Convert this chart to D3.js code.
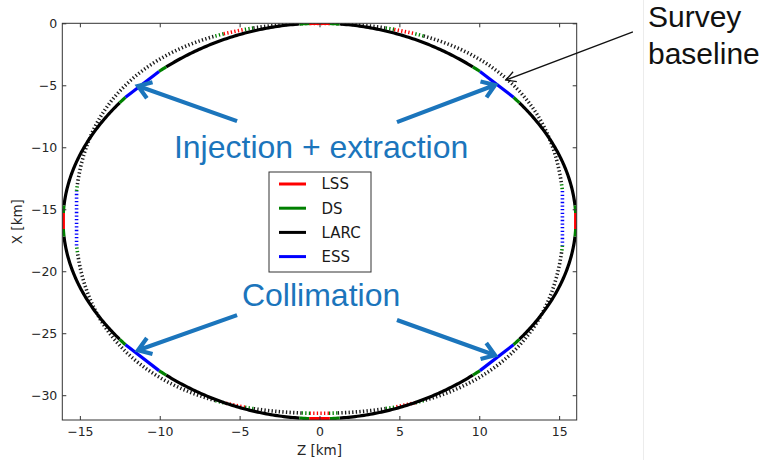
<!DOCTYPE html>
<html>
<head>
<meta charset="utf-8">
<script src="https://cdn.jsdelivr.net/npm/d3@7"></script>
<style>
body { margin: 0; background: #fff; }
</style>
</head>
<body>
<div id="chart"></div>
<script>
// axis ticks
var zTicks = [-15, -10, -5, 0, 5, 10, 15];
var xTicks = [0, -5, -10, -15, -20, -25, -30];

// legend entries
var legendNames = ["LSS", "DS", "LARC", "ESS"];
var legendColors = ["#ff0000", "#008000", "#000000", "#0000ff"];

// main ring (solid): angles in degrees, clockwise from the top of the ring
var ringShape = { cz: 0, cx: -15.95, rz: 16.05, rx: 15.95, squeeze: -0.0094 };
var ringLSS = [[-2.3, 2.3], [87.7, 92.3], [177.7, 182.3], [267.7, 272.3]];
var ringESS = [[39.6, 50.4], [129.6, 140.4], [219.6, 230.4], [309.6, 320.4]];
var ringDS = [[-4.5, -2.3], [2.3, 4.5], [85.5, 87.7], [92.3, 94.5],
    [175.5, 177.7], [182.3, 184.5], [265.5, 267.7], [272.3, 274.5],
    [37.5, 39.6], [50.4, 52.5], [127.5, 129.6], [140.4, 142.5],
    [217.5, 219.6], [230.4, 232.5], [307.5, 309.6], [320.4, 322.5]];

// survey baseline ring (dotted)
var surveyShape = { cz: 0, cx: -15.73, rz: 15.3, rx: 15.73, squeeze: 0.024 };
var surveyLSS = [[-2.2, 2.2], [17.5, 22.5], [157.5, 162.5], [177.8, 182.2],
    [197.5, 202.5], [337.5, 342.5]];
var surveyESS = [[82, 98], [262, 278]];
var surveyDS = [[-4.2, -2.2], [2.2, 4.2], [15.5, 17.5], [22.5, 24.5],
    [155.5, 157.5], [162.5, 164.5], [175.8, 177.8], [182.2, 184.2],
    [195.5, 197.5], [202.5, 204.5], [335.5, 337.5], [342.5, 344.5],
    [80, 82], [98, 100], [260, 262], [278, 280]];

// annotations, in data units [Z, X]
var noteTexts = ["Injection + extraction", "Collimation"];
var notePos = [[0.1, -10.87], [0.1, -22.82]];
var noteArrows = [
    [[-5.16, -7.89], [-11.36, -5.06]],
    [[4.85, -7.97], [10.99, -4.98]],
    [[-5.16, -23.54], [-11.36, -26.37]],
    [[4.85, -23.94], [10.99, -26.77]]
];
var surveyArrow = [[19.62, -0.70], [11.67, -4.58]];
var surveyLabel = ["Survey", "baseline"];

var W = 769, H = 460;
var plotL = 62.3, plotR = 576.7, plotT = 23.3, plotB = 420;

var svg = d3.select("#chart").append("svg")
    .attr("width", W)
    .attr("height", H);

var x = d3.scaleLinear().domain([-16.1, 16.1]).range([plotL, plotR]);
var y = d3.scaleLinear().domain([-32, 0]).range([plotB, plotT]);

var line = d3.line()
    .x(function (d) { return x(d[0]); })
    .y(function (d) { return y(d[1]); });

// slide divider on the right
svg.append("line")
    .attr("x1", 643.5).attr("x2", 643.5)
    .attr("y1", 0).attr("y2", H)
    .attr("stroke", "#ececec")
    .attr("stroke-width", 1);

svg.append("clipPath").attr("id", "plot")
    .append("rect")
    .attr("x", plotL).attr("y", plotT)
    .attr("width", plotR - plotL).attr("height", plotB - plotT);

function ringPoint(s, deg) {
    var t = deg * Math.PI / 180;
    var f = 1 + s.squeeze * (1 - Math.cos(4 * t));
    return [s.cz + s.rz * f * Math.sin(t), s.cx + s.rx * f * Math.cos(t)];
}

function arcPoints(s, a, b) {
    var pts = [];
    var n = Math.max(2, Math.ceil((b - a) / 0.5));
    for (var i = 0; i <= n; i++) pts.push(ringPoint(s, a + (b - a) * i / n));
    return pts;
}

// gaps between coloured sections are the arcs (LARC)
function arcGaps(sections) {
    var all = sections.map(function (d) { return [(d[0] + 360) % 360, (d[1] + 360) % 360]; })
        .map(function (d) { return d[1] < d[0] ? [d[0], d[1] + 360] : d; })
        .sort(function (a, b) { return a[0] - b[0]; });
    var gaps = [];
    for (var i = 0; i < all.length; i++) {
        var end = all[i][1];
        var next = i < all.length - 1 ? all[i + 1][0] : all[0][0] + 360;
        if (next > end) gaps.push([end, next]);
    }
    return gaps;
}

var plot = svg.append("g").attr("clip-path", "url(#plot)");

function drawRing(shape, lss, ds, ess, style) {
    var g = plot.append("g")
        .attr("fill", "none")
        .attr("stroke-width", style.width)
        .attr("stroke-dasharray", style.dash);
    var arcs = arcGaps(lss.concat(ds, ess));
    g.selectAll(".larc").data(arcs).enter().append("path")
        .attr("stroke", style.black)
        .attr("d", function (d) { return line(arcPoints(shape, d[0], d[1])); });
    g.selectAll(".ds").data(ds).enter().append("path")
        .attr("stroke", "#008000")
        .attr("d", function (d) { return line(arcPoints(shape, d[0], d[1])); });
    g.selectAll(".lss").data(lss).enter().append("path")
        .attr("stroke", "#ff0000")
        .attr("d", function (d) { return line([ringPoint(shape, d[0]), ringPoint(shape, d[1])]); });
    g.selectAll(".ess").data(ess).enter().append("path")
        .attr("stroke", "#0000ff")
        .attr("d", function (d) { return line([ringPoint(shape, d[0]), ringPoint(shape, d[1])]); });
}

drawRing(surveyShape, surveyLSS, surveyDS, surveyESS,
    { width: 3.6, dash: "1.3,2.3", black: "#1a1a1a" });
drawRing(ringShape, ringLSS, ringDS, ringESS,
    { width: 3.2, dash: null, black: "#000" });

// frame and ticks (matplotlib style, inward)
function styleAxis(g) {
    g.select(".domain").remove();
    g.selectAll(".tick line").attr("stroke", "#333").attr("stroke-width", 1);
    g.selectAll(".tick text")
        .attr("fill", "#262626")
        .style("font-family", "DejaVu Sans")
        .style("font-size", "12.5px");
}

svg.append("g")
    .attr("transform", "translate(0," + plotB + ")")
    .call(d3.axisBottom(x).tickValues(zTicks).tickSize(-4).tickPadding(7))
    .call(styleAxis);
svg.append("g")
    .attr("transform", "translate(0," + plotT + ")")
    .call(d3.axisTop(x).tickValues(zTicks).tickSize(-4).tickFormat(""))
    .call(styleAxis);
svg.append("g")
    .attr("transform", "translate(" + plotL + ",0)")
    .call(d3.axisLeft(y).tickValues(xTicks).tickSize(-4).tickPadding(5))
    .call(styleAxis);
svg.append("g")
    .attr("transform", "translate(" + plotR + ",0)")
    .call(d3.axisRight(y).tickValues(xTicks).tickSize(-4).tickFormat(""))
    .call(styleAxis);

svg.append("rect")
    .attr("x", plotL).attr("y", plotT)
    .attr("width", plotR - plotL).attr("height", plotB - plotT)
    .attr("fill", "none")
    .attr("stroke", "#333")
    .attr("stroke-width", 1);

svg.append("text")
    .attr("x", (plotL + plotR) / 2)
    .attr("y", 455)
    .attr("text-anchor", "middle")
    .attr("fill", "#262626")
    .style("font-family", "DejaVu Sans")
    .style("font-size", "13.5px")
    .text("Z [km]");

svg.append("text")
    .attr("transform", "translate(22," + ((plotT + plotB) / 2) + ") rotate(-90)")
    .attr("text-anchor", "middle")
    .attr("fill", "#262626")
    .style("font-family", "DejaVu Sans")
    .style("font-size", "13.5px")
    .text("X [km]");

// legend
var legend = svg.append("g").attr("transform", "translate(269,172)");
legend.append("rect")
    .attr("width", 102).attr("height", 100)
    .attr("fill", "#fff")
    .attr("stroke", "#333")
    .attr("stroke-width", 1);
var item = legend.selectAll(".item").data(legendNames).enter().append("g")
    .attr("transform", function (d, i) { return "translate(0," + (12 + i * 24.2) + ")"; });
item.append("line")
    .attr("x1", 10).attr("x2", 37)
    .attr("stroke", function (d, i) { return legendColors[i]; })
    .attr("stroke-width", 3);
item.append("text")
    .attr("x", 52.5)
    .attr("dy", "0.36em")
    .attr("fill", "#1a1a1a")
    .style("font-family", "DejaVu Sans")
    .style("font-size", "15px")
    .text(function (d) { return d; });

// annotations
function arrow(g, p0, p1, color, width, head, ang) {
    var a = [x(p0[0]), y(p0[1])], b = [x(p1[0]), y(p1[1])];
    var t = Math.atan2(b[1] - a[1], b[0] - a[0]);
    var w1 = [b[0] - head * Math.cos(t - ang), b[1] - head * Math.sin(t - ang)];
    var w2 = [b[0] - head * Math.cos(t + ang), b[1] - head * Math.sin(t + ang)];
    g.append("path")
        .attr("d", "M" + a + "L" + b + "M" + w1 + "L" + b + "L" + w2)
        .attr("fill", "none")
        .attr("stroke", color)
        .attr("stroke-width", width)
        .attr("stroke-linejoin", "miter");
}

var blue = "#1b75bc";
var notes = svg.append("g");
noteArrows.forEach(function (d) { arrow(notes, d[0], d[1], blue, 4.2, 15, 0.6); });
notes.selectAll(".note").data(noteTexts).enter().append("text")
    .attr("x", function (d, i) { return x(notePos[i][0]); })
    .attr("y", function (d, i) { return y(notePos[i][1]); })
    .attr("text-anchor", "middle")
    .attr("fill", blue)
    .style("font-family", "Liberation Sans, Arial, sans-serif")
    .style("font-size", "32px")
    .text(function (d) { return d; });

arrow(svg, surveyArrow[0], surveyArrow[1], "#111", 1.3, 11, 0.5);
svg.selectAll(".survey").data(surveyLabel).enter().append("text")
    .attr("x", 648)
    .attr("y", function (d, i) { return 27 + i * 36.5; })
    .attr("fill", "#111")
    .style("font-family", "Liberation Sans, Arial, sans-serif")
    .style("font-size", "30px")
    .text(function (d) { return d; });
</script>
</body>
</html>
